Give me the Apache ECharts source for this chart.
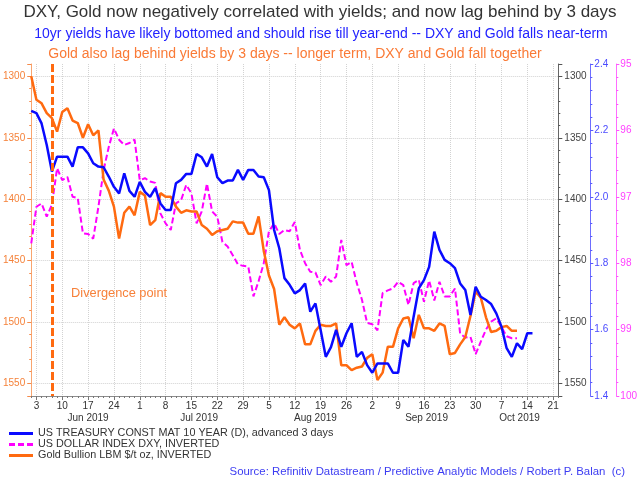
<!DOCTYPE html>
<html><head><meta charset="utf-8">
<script src="https://cdn.jsdelivr.net/npm/echarts@6/dist/echarts.min.js"></script>
<style>html,body{margin:0;padding:0;background:#fff}#c{width:640px;height:478px}</style>
</head><body><div id="c"></div>
<script>
const FONT = '"Liberation Sans", Arial, Helvetica, sans-serif';
const titleText = 'DXY, Gold now negatively correlated with yields; and now lag behind by 3 days';
const subText1 = '10yr yields have likely bottomed and should rise till year-end -- DXY and Gold falls near-term';
const subText2 = 'Gold also lag behind yields by 3 days -- longer term, DXY and Gold fall together';
const sourceText = 'Source: Refinitiv Datastream / Predictive Analytic Models / Robert P. Balan  (c)';
const seriesNames = ['US TREASURY CONST MAT 10 YEAR (D), advanced 3 days', 'US DOLLAR INDEX DXY, INVERTED', 'Gold Bullion LBM $/t oz, INVERTED'];
const firstDay = '2019-05-31';
const lastDay = '2019-10-22';
const divergenceDate = '2019-06-06';
const divergenceLabel = 'Divergence point';
const divergenceLabelAt = ['2019-06-25', 1477];
const monthNames = ['Jan','Feb','Mar','Apr','May','Jun','Jul','Aug','Sep','Oct','Nov','Dec'];

// Gold Bullion $/t oz (inverted axis), one value per trading day from 2019-05-31
const gold = [1300,1319,1322,1330,1334,1345,1329,1326,1336,1338,1350,1339,1348,1344,1384,1393,1406,1432,1411,1406,
1413,1394,1397,1421,1417,1395,1398,1398,1406,1411,1409,1410,1410,1421,1424,1429,1426,1425,1424,1418,
1419,1419,1428,1428,1414,1442,1462,1473,1502,1496,1502,1505,1501,1518,1518,1507,1502,1503,1503,1501,
1535,1535,1539,1537,1536,1529,1526,1547,1541,1520,1520,1505,1497,1496,1513,1494,1505,1505,1507,1501,
1503,1526,1525,1518,1512,1495,1475,1480,1496,1508,1507,1504,1503,1507,1507];
// US 10Y yield, advanced 3 days
const yields = [2.259,2.252,2.221,2.156,2.076,2.121,2.121,2.121,2.091,2.149,2.149,2.131,2.101,2.091,2.089,2.061,2.030,2.010,2.071,2.018,
2.000,2.045,2.015,2.000,2.026,1.980,1.960,1.960,2.041,2.051,2.069,2.069,2.129,2.119,2.091,2.129,2.059,2.041,2.049,2.049,
2.081,2.051,2.081,2.081,2.061,2.059,2.020,1.900,1.845,1.755,1.735,1.709,1.719,1.739,1.654,1.679,1.599,1.518,1.547,1.599,
1.548,1.589,1.619,1.518,1.533,1.493,1.470,1.498,1.498,1.498,1.470,1.470,1.569,1.548,1.639,1.724,1.749,1.789,1.895,1.840,
1.810,1.800,1.785,1.739,1.719,1.644,1.729,1.699,1.689,1.677,1.649,1.609,1.544,1.518,1.559,1.541,1.589,1.589];
// DXY (inverted axis)
const dxy = [97.70,97.15,97.10,97.30,97.12,96.57,96.75,96.70,97.00,97.02,97.55,97.56,97.63,97.15,96.60,96.25,95.97,96.14,96.22,96.19,
96.14,96.75,96.72,96.77,96.79,97.25,97.40,97.50,97.10,97.05,96.82,96.95,97.40,97.22,96.80,97.22,97.30,97.68,97.75,97.88,
98.02,98.04,98.05,98.50,98.27,98.00,97.52,97.40,97.56,97.50,97.52,97.38,97.80,98.00,98.13,98.14,98.33,98.20,98.28,98.20,
97.65,98.03,97.98,98.30,98.55,98.90,98.92,99.01,98.45,98.41,98.38,98.28,98.33,98.63,98.30,98.25,98.58,98.26,98.56,98.28,
98.50,98.50,98.38,99.06,99.12,99.11,99.37,99.18,99.00,98.88,98.83,98.96,99.10,99.13,99.13];

// trading-day categories
function tradingDays(a, b) {
  const out = [];
  const d = new Date(a + 'T00:00:00Z'), e = new Date(b + 'T00:00:00Z');
  while (d <= e) {
    const w = d.getUTCDay();
    if (w !== 0 && w !== 6) out.push(d.toISOString().slice(0, 10));
    d.setUTCDate(d.getUTCDate() + 1);
  }
  return out;
}
const categories = tradingDays(firstDay, lastDay);
const isMonday = (i, v) => new Date(v + 'T00:00:00Z').getUTCDay() === 1;

// month label positions: middle of each month's span on the axis
const monthStarts = [];
categories.forEach((c, i) => {
  if (i > 0 && c.slice(5, 7) !== categories[i - 1].slice(5, 7)) monthStarts.push(i);
});
const monthLabelMap = {};
monthStarts.forEach((s, k) => {
  const e = k + 1 < monthStarts.length ? monthStarts[k + 1] : categories.length - 1;
  const mid = (s + e) / 2;
  const c = categories[s];
  monthLabelMap[mid.toFixed(1)] = monthNames[+c.slice(5, 7) - 1] + ' ' + c.slice(0, 4);
});

const solidIcon = 'path://M0,0H24V3H0Z';
const dashIcon = 'path://M0,0H6V3H0ZM9,0H15V3H9ZM18,0H24V3H18Z';

const chart = echarts.init(document.getElementById('c'), null, {renderer: 'canvas'});
const gridLine = {show: true, lineStyle: {color: '#d2d2d2', type: 'dotted', width: 1}};
chart.setOption({
  animation: false,
  textStyle: {fontFamily: FONT},
  title: [
    {text: titleText, left: 320, top: 4, textAlign: 'center', padding: 0,
     textStyle: {fontSize: 17, fontWeight: 'normal', color: '#333', fontFamily: FONT}},
    {text: subText1, left: 321, top: 27, textAlign: 'center', padding: 0,
     textStyle: {fontSize: 14, fontWeight: 'normal', color: '#2323ff', fontFamily: FONT}},
    {text: subText2, left: 295, top: 47, textAlign: 'center', padding: 0,
     textStyle: {fontSize: 14, fontWeight: 'normal', color: '#fa7a36', fontFamily: FONT}},
    {text: sourceText, right: 15, top: 466, padding: 0,
     textStyle: {fontSize: 11.4, fontWeight: 'normal', color: '#3c3cf2', fontFamily: FONT}}
  ],
  legend: {
    orient: 'vertical', left: 9, top: 428, itemWidth: 24, itemHeight: 3, itemGap: 0, padding: 0,
    data: [
      {name: seriesNames[0], icon: solidIcon},
      {name: seriesNames[1], icon: dashIcon},
      {name: seriesNames[2], icon: solidIcon}
    ],
    textStyle: {fontSize: 10.8, color: '#333', fontFamily: FONT}
  },
  grid: {left: 30, right: 79, top: 64, bottom: 82, containLabel: false},
  xAxis: [
    {type: 'category', data: categories, boundaryGap: false, position: 'bottom',
     axisLine: {show: true, onZero: false, lineStyle: {color: '#8c8c8c'}},
     axisTick: {show: true, interval: isMonday, length: 4, lineStyle: {color: '#777'}},
     axisLabel: {interval: isMonday, formatter: v => String(+v.slice(8, 10)), fontSize: 10, color: '#333', margin: 5},
     splitLine: Object.assign({interval: isMonday}, gridLine)},
    {type: 'category', data: categories, boundaryGap: false, position: 'bottom',
     axisLine: {show: false, onZero: false}, axisTick: {show: true, interval: 0, length: 2, lineStyle: {color: '#777'}},
     axisLabel: {show: false}, splitLine: {show: false}},
    {type: 'value', min: 0, max: categories.length - 1, interval: 0.5, position: 'bottom',
     axisLine: {show: false, onZero: false}, axisTick: {show: false}, splitLine: {show: false},
     axisLabel: {formatter: v => monthLabelMap[v.toFixed(1)] || '', fontSize: 10, color: '#333', margin: 17,
                 showMinLabel: true, showMaxLabel: true}}
  ],
  yAxis: [
    {type: 'value', position: 'left', inverse: true, min: 1290, max: 1560, splitNumber: 5,
     axisLine: {show: true, lineStyle: {color: '#f9a56f'}},
     axisTick: {show: true, length: 4, lineStyle: {color: '#f58b4c'}},
     minorTick: {show: true, splitNumber: 5, length: 2, lineStyle: {color: '#f58b4c'}},
     axisLabel: {color: '#f5823a', fontSize: 10, margin: 6, showMinLabel: false, showMaxLabel: false, formatter: v => String(v)},
     splitLine: Object.assign({showMinLine: false, showMaxLine: false}, gridLine)},
    {type: 'value', position: 'right', offset: 0, inverse: true, min: 1290, max: 1560, splitNumber: 5,
     axisLine: {show: true, lineStyle: {color: '#666'}},
     axisTick: {show: true, length: 4, lineStyle: {color: '#555'}},
     minorTick: {show: true, splitNumber: 5, length: 2, lineStyle: {color: '#555'}},
     axisLabel: {color: '#444', fontSize: 10, margin: 6, showMinLabel: false, showMaxLabel: false, formatter: v => String(v)},
     splitLine: {show: false}},
    {type: 'value', position: 'right', offset: 32, min: 1.4, max: 2.4, interval: 0.2,
     axisLine: {show: true, lineStyle: {color: '#6d6dff'}},
     axisTick: {show: true, length: 3, lineStyle: {color: '#5a5aff'}},
     minorTick: {show: true, splitNumber: 5, length: 2, lineStyle: {color: '#5a5aff'}},
     axisLabel: {color: '#4b4bff', fontSize: 10, margin: 4, formatter: v => v.toFixed(1)},
     splitLine: {show: false}},
    {type: 'value', position: 'right', offset: 58, inverse: true, min: 95, max: 100, interval: 1,
     axisLine: {show: true, lineStyle: {color: '#ff6dff'}},
     axisTick: {show: true, length: 3, lineStyle: {color: '#ff55ff'}},
     minorTick: {show: true, splitNumber: 5, length: 2, lineStyle: {color: '#ff55ff'}},
     axisLabel: {color: '#ff3fff', fontSize: 10, margin: 4},
     splitLine: {show: false}}
  ],
  series: [
    {name: seriesNames[1], type: 'line', xAxisIndex: 0, yAxisIndex: 3, data: dxy, symbol: 'none',
     lineStyle: {color: '#ff00ff', width: 2, type: [6, 3]}, itemStyle: {color: '#ff00ff'}, z: 2},
    {name: seriesNames[2], type: 'line', xAxisIndex: 0, yAxisIndex: 0, data: gold, symbol: 'none',
     lineStyle: {color: '#ff6a10', width: 2.5}, itemStyle: {color: '#ff6a10'}, z: 3,
     markLine: {silent: true, symbol: ['none', 'none'], label: {show: false},
       lineStyle: {color: '#ff6a10', width: 3, type: [8, 3]}, data: [{xAxis: divergenceDate}]},
     markPoint: {silent: true, symbol: 'circle', symbolSize: 1, itemStyle: {color: 'rgba(0,0,0,0)'},
       label: {show: true, position: 'inside', formatter: divergenceLabel, color: '#f7813a', fontSize: 12.8, fontFamily: FONT},
       data: [{coord: divergenceLabelAt}]}},
    {name: seriesNames[0], type: 'line', xAxisIndex: 0, yAxisIndex: 2, data: yields, symbol: 'none',
     lineStyle: {color: '#0a0aff', width: 2.5}, itemStyle: {color: '#0a0aff'}, z: 4}
  ]
});
</script></body></html>
